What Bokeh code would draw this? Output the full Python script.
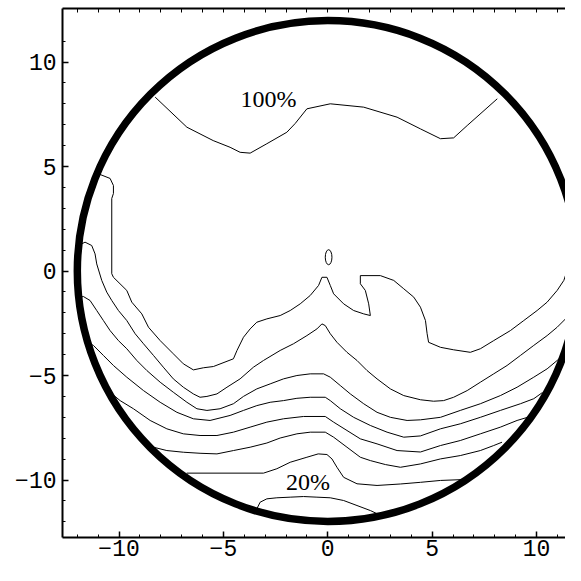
from bokeh.plotting import figure
from bokeh.models import Range1d, LinearAxis, FixedTicker
from bokeh.core.properties import value
from bokeh.embed import file_html
from bokeh.resources import INLINE

# ---- data ----
c1_x = [-8.27, -6.75, -5.49, -4.68, -4.20, -3.72, -2.92, -1.96, -1.56, -1.00, 0.12, 1.72, 3.32, 4.44, 5.40, 6.03, 6.68, 8.12]
c1_y = [8.32, 6.88, 6.24, 5.92, 5.68, 5.64, 6.09, 6.64, 7.06, 7.76, 8.00, 7.84, 7.36, 6.80, 6.33, 6.37, 6.96, 8.24]

c2_x = [-10.99, -10.43, -10.27, -10.27, -10.35, -10.35, -10.27, -9.63, -9.39, -8.91, -8.59, -8.03, -7.40, -6.92, -6.44,
        -5.96, -5.48, -4.52, -4.35, -4.04, -3.72, -3.40, -2.92, -2.28, -1.80, -1.32, -0.84, -0.44, -0.28, -0.04, 0.12,
        0.28, 0.76, 1.24, 1.72, 2.04, 1.96, 1.80, 1.56, 1.56, 1.88, 2.52, 3.16, 3.64, 4.12, 4.44, 4.68, 4.76, 4.83, 5.40,
        6.03, 6.83, 7.31, 7.95, 8.75, 9.39, 10.03, 10.51, 10.99, 11.31, 11.50, 11.50, 11.70]
c2_y = [4.65, 4.43, 4.09, 3.71, 3.47, -0.13, -0.30, -0.93, -1.49, -2.05, -2.69, -3.33, -3.96, -4.44, -4.73,
        -4.63, -4.57, -4.20, -3.80, -3.17, -2.77, -2.45, -2.29, -2.13, -1.89, -1.57, -1.17, -0.69, -0.30, -0.30, -0.69,
        -1.09, -1.57, -1.89, -2.05, -2.13, -1.57, -0.93, -0.61, -0.22, -0.22, -0.22, -0.45, -0.85, -1.25, -1.73, -2.37,
        -3.00, -3.41, -3.65, -3.77, -3.89, -3.72, -3.33, -2.85, -2.37, -1.89, -1.49, -0.93, -0.45, 0.12, 2.26, 2.32]

c3_x = [-11.79, -11.63, -11.31, -11.15, -11.07, -10.83, -10.59, -10.35, -10.03, -9.63, -9.23, -8.83, -8.35, -7.88,
        -7.40, -6.92, -6.44, -6.12, -5.79, -5.31, -4.83, -4.20, -3.56, -3.08, -2.28, -1.64, -1.00, -0.52, -0.28, -0.12,
        0.12, 0.44, 0.92, 1.40, 1.88, 2.36, 3.00, 3.64, 4.44, 5.07, 5.55, 6.03, 6.68, 7.31, 7.95, 8.59, 9.23, 9.87,
        10.51, 10.99, 11.47, 11.68]
c3_y = [1.30, 1.38, 1.22, 0.82, 0.34, -0.45, -1.01, -1.41, -1.89, -2.37, -3.00, -3.48, -4.04, -4.60,
        -5.16, -5.56, -5.88, -6.04, -6.00, -5.88, -5.56, -5.16, -4.60, -4.28, -3.80, -3.48, -3.09, -2.77, -2.53, -2.61,
        -3.00, -3.41, -3.89, -4.28, -4.76, -5.16, -5.64, -5.96, -6.16, -6.23, -6.20, -6.04, -5.72, -5.32, -4.92, -4.52,
        -4.04, -3.56, -3.09, -2.69, -2.21, -1.97]

c4_x = [-11.84, -11.71, -11.39, -11.07, -10.75, -10.43, -10.03, -9.63, -9.15, -8.67, -8.03, -7.40, -6.75, -6.27,
        -5.79, -5.16, -4.52, -4.04, -3.40, -2.76, -2.12, -1.48, -0.84, -0.20, 0.12, 0.60, 1.08, 1.72, 2.36, 3.00, 3.80,
        4.44, 5.40, 6.35, 7.31, 8.27, 9.07, 9.87, 10.51, 10.99, 11.20]
c4_y = [-1.25, -1.22, -1.41, -1.89, -2.37, -2.85, -3.33, -3.72, -4.28, -4.76, -5.32, -5.80, -6.28, -6.59,
        -6.67, -6.59, -6.35, -6.00, -5.64, -5.40, -5.16, -5.00, -4.92, -4.92, -5.08, -5.48, -5.88, -6.35, -6.76, -7.00,
        -7.15, -7.12, -7.00, -6.67, -6.35, -5.96, -5.56, -5.08, -4.68, -4.28, -4.09]

c5_x = [-11.39, -11.23, -10.75, -10.27, -9.63, -8.83, -8.03, -7.23, -6.44, -5.64, -4.68, -4.04, -3.40, -2.76, -2.12,
        -1.48, -0.84, -0.12, 0.12, 0.60, 1.24, 2.04, 2.84, 3.64, 4.44, 5.40, 6.35, 7.31, 8.27, 9.23, 9.87, 10.29]
c5_y = [-3.48, -3.56, -4.04, -4.52, -5.08, -5.72, -6.28, -6.76, -7.07, -7.15, -6.91, -6.67, -6.44, -6.28, -6.20,
        -6.09, -6.04, -6.04, -6.20, -6.59, -7.00, -7.39, -7.71, -7.95, -7.89, -7.55, -7.31, -7.00, -6.67, -6.35,
        -6.11, -5.81]

c6_x = [-10.43, -9.95, -9.31, -8.51, -7.71, -6.92, -6.12, -5.31, -4.52, -3.72, -2.92, -2.12, -1.16, -0.12, 0.28,
        0.92, 1.56, 2.36, 3.32, 4.44, 5.40, 6.35, 7.31, 8.27, 9.07, 9.57]
c6_y = [-5.80, -6.20, -6.59, -7.15, -7.55, -7.79, -7.87, -7.87, -7.71, -7.47, -7.23, -7.07, -6.96, -6.96, -7.23,
        -7.63, -8.03, -8.27, -8.59, -8.66, -8.35, -8.11, -7.79, -7.47, -7.15, -7.00]

c7_x = [-8.67, -8.35, -7.71, -6.92, -6.12, -5.31, -4.52, -3.72, -2.92, -2.28, -1.48, -0.84, -0.12, 0.28, 0.92,
        1.56, 2.04, 2.76, 3.48, 4.44, 5.40, 6.35, 7.31, 7.95, 8.35]
c7_y = [-8.27, -8.43, -8.59, -8.67, -8.72, -8.75, -8.59, -8.43, -8.23, -7.99, -7.79, -7.71, -7.71, -7.95, -8.43,
        -8.91, -9.07, -9.26, -9.39, -9.23, -8.99, -8.83, -8.59, -8.35, -8.19]

c8_x = [-6.76, -3.08, -2.44, -1.80, -1.00, -0.46, -0.04, 0.20, 0.44, 0.76, 1.40, 2.36, 3.48, 4.44, 5.40, 6.45]
c8_y = [-9.67, -9.67, -9.46, -9.15, -8.91, -8.75, -8.78, -8.99, -9.39, -9.87, -10.18, -10.26, -10.19, -10.11,
        -10.02, -9.98]

c9_x = [-3.40, -3.24, -2.92, -2.44, -1.80, -1.16, -0.52, 0.12, 0.76, 1.40, 2.04, 2.44]
c9_y = [-11.38, -11.06, -10.90, -10.85, -10.82, -10.79, -10.82, -10.85, -10.98, -11.22, -11.46, -11.65]

# small closed contour near the centre
oval_x = [0.04]
oval_y = [0.66]
oval_w = [0.32]
oval_h = [0.72]

# boundary circle
circle_x = [0.0]
circle_y = [0.0]
circle_r = 12.0

# contour level labels (centre of the text)
label_text = ["100%", "20%"]
label_x = [-2.84, -0.95]
label_y = [8.21, -10.10]

# frame tick positions
major_ticks = [-10, -5, 0, 5, 10]
minor_ticks = list(range(-12, 12))

contours_x = [c1_x, c2_x, c3_x, c4_x, c5_x, c6_x, c7_x, c8_x, c9_x]
contours_y = [c1_y, c2_y, c3_y, c4_y, c5_y, c6_y, c7_y, c8_y, c9_y]

# ---- figure ----
p = figure(width=565, height=565,
           x_range=Range1d(-12.71, 11.39), y_range=Range1d(-12.75, 12.56),
           output_backend="svg", toolbar_location=None,
           min_border_left=62, min_border_right=0, min_border_top=8, min_border_bottom=28)
p.outline_line_color = None
p.grid.visible = False
p.background_fill_color = "white"
p.border_fill_color = "white"

# top frame edge: ticks only, no labels
top_axis = LinearAxis(ticker=FixedTicker(ticks=[], minor_ticks=minor_ticks))
p.add_layout(top_axis, "above")
bottom_axis = p.below[0]
left_axis = p.left[0]

for ax in [bottom_axis, left_axis, top_axis]:
    ax.axis_line_width = 2
    ax.axis_line_color = "black"
    ax.major_tick_in = 6
    ax.major_tick_out = 0
    ax.minor_tick_in = 3
    ax.minor_tick_out = 0
    ax.major_tick_line_width = 1.5
    ax.major_tick_line_color = "black"
    ax.minor_tick_line_color = "black"
    ax.major_label_text_font = "Liberation Mono"
    ax.major_label_text_font_size = "23px"
    ax.major_label_text_color = "black"

for ax in [bottom_axis, left_axis]:
    ax.ticker = FixedTicker(ticks=major_ticks, minor_ticks=minor_ticks)

top_axis.minor_tick_in = 4
top_axis.major_label_standoff = 0
bottom_axis.major_label_standoff = 2
left_axis.major_label_standoff = 6

p.multi_line(xs=contours_x, ys=contours_y, line_color="black", line_width=1)
p.ellipse(x=oval_x, y=oval_y, width=oval_w, height=oval_h, fill_color=None,
          line_color="black", line_width=1)
p.circle(x=circle_x, y=circle_y, radius=circle_r, fill_color=None,
         line_color="black", line_width=7.5)
p.text(x=label_x, y=label_y, text=label_text, text_font=value("Liberation Serif"),
       text_font_size="24px", text_align="center", text_baseline="middle", text_color="black")

open("out.html", "w").write(file_html(p, INLINE))
